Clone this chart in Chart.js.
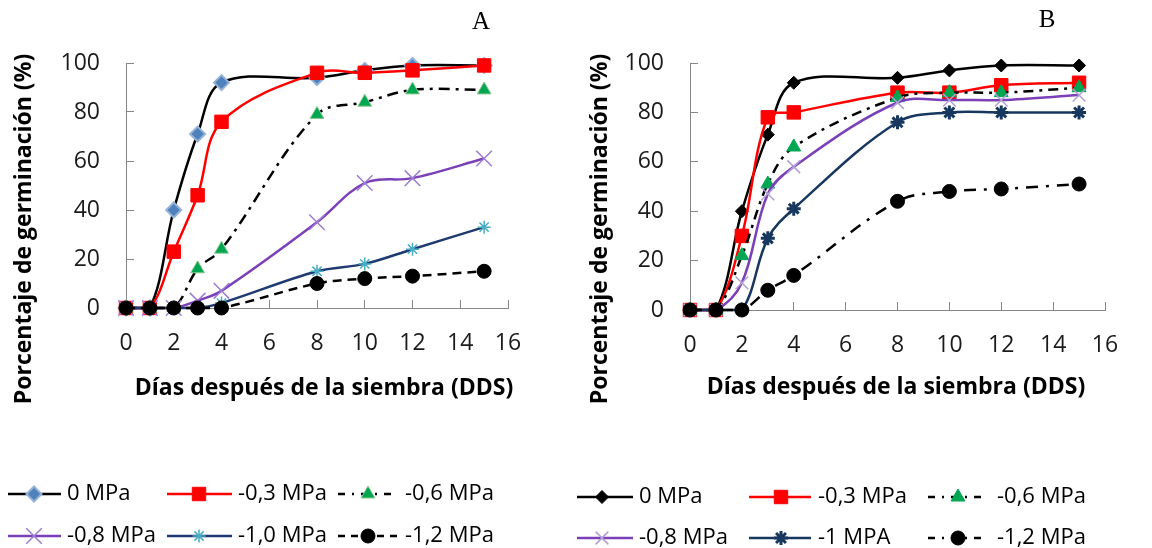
<!DOCTYPE html>
<html>
<head>
<meta charset="utf-8">
<script src="https://cdn.jsdelivr.net/npm/chart.js@4.4.0/dist/chart.umd.min.js"></script>
<style>
  html, body { margin: 0; padding: 0; background: #fff; }
  #wrap { position: relative; width: 1152px; height: 548px; overflow: hidden; }
  .panel { position: absolute; top: 0; width: 576px; height: 548px; }
</style>
</head>
<body>
<div id="wrap">
  <div class="panel" style="left:0"><canvas id="chartA" width="576" height="548"></canvas></div>
  <div class="panel" style="left:576px"><canvas id="chartB" width="576" height="548"></canvas></div>
</div>
<script>
// Datos: días después de la siembra y % de germinación por potencial osmótico
const days = [0, 1, 2, 3, 4, 8, 10, 12, 15];
const xTickValues = [0, 2, 4, 6, 8, 10, 12, 14, 16];
const yTickValues = [0, 20, 40, 60, 80, 100];
const xTitle = 'Días después de la siembra (DDS)';
const yTitle = 'Porcentaje de germinación (%)';

const labelsA = ['0 MPa', '-0,3 MPa', '-0,6 MPa', '-0,8 MPa', '-1,0 MPa', '-1,2 MPa'];
const labelsB = ['0 MPa', '-0,3 MPa', '-0,6 MPa', '-0,8 MPa', '-1 MPA', '-1,2 MPa'];

// Panel A
const a0  = [0, 0, 40, 71, 92, 94, 97, 99, 99];
const a03 = [0, 0, 23, 46, 76, 96, 96, 97, 99];
const a06 = [0, 0, 0, 16, 24, 79, 84, 89, 89];
const a08 = [0, 0, 0, 3, 7, 35, 51, 53, 61];
const a10 = [0, 0, 0, 0, 2, 15, 18, 24, 33];
const a12 = [0, 0, 0, 0, 0, 10, 12, 13, 15];

// Panel B
const b0  = [0, 0, 40, 71, 92, 94, 97, 99, 99];
const b03 = [0, 0, 30, 78, 80, 88, 88, 91, 92];
const b06 = [0, 0, 22, 51, 66, 86, 88, 88, 90];
const b08 = [0, 0, 11, 47, 58, 84, 85, 85, 87];
const b1  = [0, 0, 0, 29, 41, 76, 80, 80, 80];
const b12 = [0, 0, 0, 8, 14, 44, 48, 49, 51];

// Estilos de cada serie (tipo Excel)
const stylesA = [
  { color: '#000000', dash: [], legendDash: [], point: 'rectRot', r: 7.5, fill: '#4f81bd', border: '#95b3d7', bw: 2 },
  { color: '#ff0000', dash: [], legendDash: [], point: 'rect', r: 9.5, fill: '#ff0000', border: '#ff0000', bw: 1 },
  { color: '#000000', dash: [11, 6, 3, 6], legendDash: [7, 7, 2, 7], point: 'triangle', r: 8, fill: '#00a651', border: '#8fc98f', bw: 1 },
  { color: '#7b3fb8', dash: [], legendDash: [], point: 'crossRot', r: 11, fill: '#9b7dd4', border: '#9b7dd4', bw: 1.5 },
  { color: '#1f3a70', dash: [], legendDash: [], point: 'star', r: 6.5, fill: '#4bacc6', border: '#4bacc6', bw: 1.5 },
  { color: '#000000', dash: [9, 6], legendDash: [7, 6], point: 'circle', r: 7, fill: '#000000', border: '#000000', bw: 1 }
];
const stylesB = [
  { color: '#000000', dash: [], legendDash: [], point: 'rectRot', r: 6.5, fill: '#000000', border: '#000000', bw: 1 },
  { color: '#ff0000', dash: [], legendDash: [], point: 'rect', r: 9.5, fill: '#ff0000', border: '#ff0000', bw: 1 },
  { color: '#000000', dash: [10, 6, 3, 6], legendDash: [7, 7, 2, 7], point: 'triangle', r: 8, fill: '#00a651', border: '#00a651', bw: 1 },
  { color: '#7b3fb8', dash: [], legendDash: [], point: 'crossRot', r: 9, fill: '#b09fd6', border: '#b09fd6', bw: 1.5 },
  { color: '#17375e', dash: [], legendDash: [], point: 'star', r: 7, fill: '#17375e', border: '#17375e', bw: 3 },
  { color: '#000000', dash: [12, 8, 3, 8], legendDash: [7, 7, 2, 7], point: 'circle', r: 7, fill: '#000000', border: '#000000', bw: 1 }
];

// Decoración: títulos, letra del panel, leyenda
const panelDeco = {
  id: 'panelDeco',
  afterDraw(chart, args, opts) {
    const ctx = chart.ctx;
    ctx.save();
    ctx.fillStyle = '#000';
    ctx.textAlign = 'center';
    ctx.textBaseline = 'middle';

    ctx.font = '25px "Liberation Serif"';
    ctx.fillText(opts.letter, opts.letterPos[0], opts.letterPos[1]);

    ctx.font = 'bold 23px "Open Sans"';
    ctx.fillText(xTitle, opts.xTitlePos[0], opts.xTitlePos[1]);
    ctx.save();
    ctx.translate(opts.yTitlePos[0], opts.yTitlePos[1]);
    ctx.rotate(-Math.PI / 2);
    ctx.fillText(yTitle, 0, 0);
    ctx.restore();

    chart.data.datasets.forEach((ds, i) => {
      const col = opts.legendCols[i % 3];
      const y = opts.legendRows[Math.floor(i / 3)];
      ctx.save();
      ctx.strokeStyle = ds.borderColor;
      ctx.lineWidth = ds.borderWidth;
      ctx.setLineDash(ds.legendDash);
      ctx.beginPath();
      ctx.moveTo(col.x0, y);
      ctx.lineTo(col.x1, y);
      ctx.stroke();
      ctx.setLineDash([]);
      ctx.fillStyle = ds.pointBackgroundColor;
      ctx.strokeStyle = ds.pointBorderColor;
      ctx.lineWidth = ds.pointBorderWidth;
      Chart.helpers.drawPoint(ctx, {
        pointStyle: ds.pointStyle, radius: ds.pointRadius, rotation: 0, borderWidth: ds.pointBorderWidth
      }, col.m, y);
      ctx.restore();
      ctx.font = '22px "Open Sans"';
      ctx.textAlign = 'left';
      ctx.fillStyle = '#000';
      ctx.fillText(ds.label, col.t, y);
    });
    ctx.restore();
  }
};

function buildDatasets(labels, series, styles) {
  return series.map((vals, i) => {
    const st = styles[i];
    return {
      label: labels[i],
      data: vals.map((v, k) => ({ x: days[k], y: v })),
      borderColor: st.color,
      borderWidth: 2.5,
      borderDash: st.dash,
      legendDash: st.legendDash,
      tension: 0.35,
      pointStyle: st.point,
      pointRadius: st.r,
      pointBackgroundColor: st.fill,
      pointBorderColor: st.border,
      pointBorderWidth: st.bw,
      order: -i,
      clip: false
    };
  });
}

function makeChart(id, labels, series, styles, lay, deco) {
  return new Chart(document.getElementById(id), {
    type: 'line',
    data: { datasets: buildDatasets(labels, series, styles) },
    plugins: [panelDeco],
    options: {
      responsive: false,
      animation: false,
      layout: { padding: lay.padding },
      plugins: { legend: { display: false }, tooltip: { enabled: false }, panelDeco: deco },
      scales: {
        x: {
          type: 'linear', min: 0, max: 16,
          afterBuildTicks: s => { s.ticks = xTickValues.map(v => ({ value: v })); },
          afterFit: s => { s.height = lay.xHeight; },
          ticks: { padding: 30, color: '#1a1a1a', font: { family: 'Open Sans', size: 23 } },
          grid: { drawOnChartArea: false, tickLength: -8, color: '#868686' },
          border: { color: '#868686' }
        },
        y: {
          min: 0, max: 100,
          afterBuildTicks: s => { s.ticks = yTickValues.map(v => ({ value: v })); },
          afterFit: s => { s.width = lay.yWidth; },
          ticks: { padding: 34, color: '#1a1a1a', font: { family: 'Open Sans', size: 23 } },
          grid: { drawOnChartArea: false, tickLength: -8, color: '#868686' },
          border: { color: '#868686' }
        }
      }
    }
  });
}

makeChart('chartA', labelsA, [a0, a03, a06, a08, a10, a12], stylesA,
  { padding: { left: 8, right: 68, top: 63, bottom: 100 }, yWidth: 118, xHeight: 140 },
  {
    letter: 'A', letterPos: [481, 22],
    xTitlePos: [324, 388], yTitlePos: [24, 229],
    legendRows: [494, 536],
    legendCols: [
      { x0: 8, x1: 61, m: 34, t: 67 },
      { x0: 167, x1: 232, m: 199, t: 238 },
      { x0: 338, x1: 398, m: 368, t: 405 }
    ]
  });

makeChart('chartB', labelsB, [b0, b03, b06, b08, b1, b12], stylesB,
  { padding: { left: 8, right: 47, top: 63, bottom: 100 }, yWidth: 106, xHeight: 138 },
  {
    letter: 'B', letterPos: [471, 20],
    xTitlePos: [320, 387], yTitlePos: [24, 229],
    legendRows: [497, 538],
    legendCols: [
      { x0: 1, x1: 57, m: 26, t: 63 },
      { x0: 173, x1: 235, m: 205, t: 242 },
      { x0: 352, x1: 411, m: 382, t: 421 }
    ]
  });
</script>
</body>
</html>
